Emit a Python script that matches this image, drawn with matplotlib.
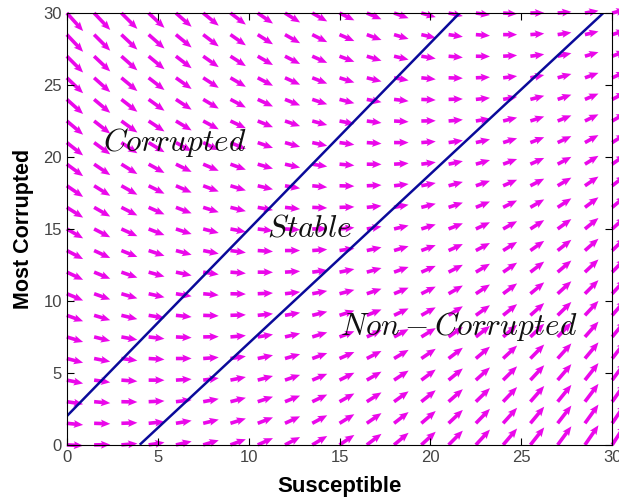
import numpy as np
import matplotlib
matplotlib.use("Agg")
import matplotlib.pyplot as plt

plt.rcParams['mathtext.fontset'] = 'cm'
plt.rcParams['font.family'] = ['Liberation Sans', 'DejaVu Sans']

# grid of the direction field
grid_step = 1.5
S_max = 30
M_max = 30

# model parameters (susceptible / most-corrupted flow)
inflow = 0.85
decay = 0.005
rate = 0.038
slope = 1.24
offset = -1.3

# boundary lines: (intercept point, slope)
upper_line = {"x0": 0.0, "y0": 2.0, "slope": 1.296}
lower_line = {"x0": 4.0, "y0": 0.0, "slope": 1.176}

region_labels = [r'$Corrupted$', r'$Stable$', r'$Non-Corrupted$']
label_pos = [(2, 21), (11, 15), (15, 8.2)]

S, M = np.meshgrid(np.arange(0, S_max + 0.01, grid_step),
                   np.arange(0, M_max + 0.01, grid_step))
dS = inflow - decay * S
dM = rate * (slope * S + offset - M)

fig = plt.figure(figsize=(6.19, 5.01), dpi=100)
ax = fig.add_axes([0.108, 0.112, 0.881, 0.862])

q = ax.quiver(S, M, dS, dM, color='#ea08ea', angles='xy', scale_units='xy',
              scale=0.95, width=0.0066, headwidth=2.2, headlength=2.6,
              headaxislength=2.3, pivot='tail')
q.set_clip_on(False)

xs = np.linspace(0, S_max, 400)
for ln in (upper_line, lower_line):
    ys = ln["y0"] + ln["slope"] * (xs - ln["x0"])
    keep = (ys >= 0) & (ys <= M_max)
    ax.plot(xs[keep], ys[keep], color='#0a0a9a', lw=1.8)

for txt, (x, y) in zip(region_labels, label_pos):
    ax.text(x, y, txt, fontsize=22.5, ha='left', va='center', color='#111111')

ax.set_xlim(0, S_max)
ax.set_ylim(0, M_max)
ax.set_xticks(np.arange(0, 31, 5))
ax.set_yticks(np.arange(0, 31, 5))
ax.tick_params(direction='in', top=True, right=True, labelsize=12,
               labelcolor='#444444', length=5)
ax.set_xlabel('Susceptible', fontsize=16, fontweight='bold', labelpad=8)
ax.set_ylabel('Most Corrupted', fontsize=15.5, fontweight='bold', labelpad=7)

fig.savefig('out.png', dpi=100)
